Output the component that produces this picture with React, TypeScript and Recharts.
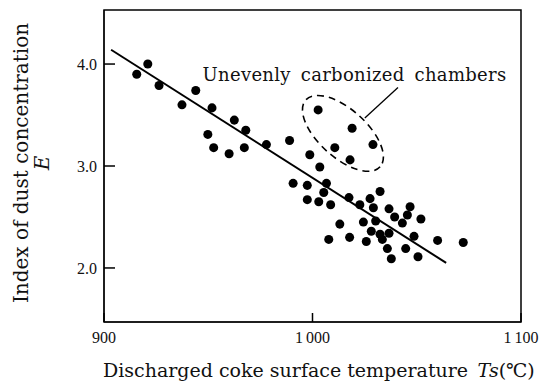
import React from "react";
import {
  ScatterChart,
  Scatter,
  XAxis,
  YAxis,
  ZAxis,
  ReferenceLine,
  ReferenceArea,
  ReferenceDot,
} from "recharts";

// surface temperature Ts (°C) vs index of dust concentration E
const tempTs = [
  915.7, 921, 926.4, 937.4, 944, 951.8, 962.5, 968, 949.8, 952.6, 960, 967.3, 977.9, 989,
  998.7, 1003.5, 1002.7, 1019, 1029, 1010.7, 1018,
  990.7, 997.5, 997.5, 1003, 1006.7, 1005.4, 1008.7, 1017.5, 1022.7, 1027.6, 1029.2, 1032.4,
  1036.7, 1039.4, 1043.1, 1046.8, 1045.5, 1052, 1013.1, 1024.4, 1030.3, 1028.2, 1032.4, 1033.5,
  1036.7, 1007.8, 1017.8, 1025.8, 1048.7, 1035.9, 1044.7, 1037.8, 1050.6, 1060, 1072.3,
];
const dustE = [
  3.9, 4.0, 3.79, 3.6, 3.74, 3.57, 3.45, 3.35, 3.31, 3.18, 3.12, 3.18, 3.21, 3.25,
  3.11, 2.99, 3.55, 3.37, 3.21, 3.18, 3.06,
  2.83, 2.81, 2.67, 2.65, 2.83, 2.74, 2.62, 2.69, 2.62, 2.68, 2.59, 2.75,
  2.58, 2.5, 2.44, 2.6, 2.52, 2.48, 2.43, 2.45, 2.46, 2.36, 2.33, 2.28,
  2.34, 2.28, 2.3, 2.26, 2.31, 2.19, 2.19, 2.09, 2.11, 2.27, 2.25,
];

const xTicks = [900, 1000, 1100];
const yTicks = [2.0, 3.0, 4.0];
const xDomain = [900, 1100];
const yDomain = [1.47, 4.53];

// regression line ends, leader line ends, ellipse centre, annotation anchor
const trendTs = [903.4, 1064.1];
const trendE = [4.14, 2.05];
const leaderTs = [1025.1, 1041.0];
const leaderE = [3.47, 3.77];
const groupCentre = { ts: 1014.6, e: 3.32 };
const noteAnchor = { ts: 947.3, e: 3.83 };

const points = tempTs.map((t, i) => ({ ts: t, e: dustE[i] }));

const SERIF = "'DejaVu Serif', serif";
const TICK_FONT = "'Liberation Serif', serif";

function fmtX(v: number) {
  return v >= 1000 ? `${Math.floor(v / 1000)}\u2009${String(v % 1000).padStart(3, "0")}` : String(v);
}

// tick label plus an inward mark drawn from the axis line
function XTick(p: any) {
  const axisY = p.y - 10;
  return (
    <g>
      <path d={`M${p.x},${axisY}L${p.x},${axisY - 9}`} stroke="#000" strokeWidth={1.5} fill="none" />
      <text x={p.x} y={p.y} dy="0.71em" textAnchor="middle" fontFamily={TICK_FONT} fontSize={16} fill="#111">
        {fmtX(p.payload.value)}
      </text>
    </g>
  );
}

function YTick(p: any) {
  const axisX = p.x + 7;
  return (
    <g>
      <path d={`M${axisX},${p.y}L${axisX + 11},${p.y}`} stroke="#000" strokeWidth={1.5} fill="none" />
      <text x={p.x} y={p.y} dy="0.35em" textAnchor="end" fontFamily={TICK_FONT} fontSize={16} fill="#111">
        {p.payload.value.toFixed(1)}
      </text>
    </g>
  );
}

export default function App() {
  return (
    <div style={{ position: "absolute", left: 0, top: 0, background: "#fff" }}>
      <ScatterChart width={545} height={384} margin={{ top: 10, right: 24, bottom: 0, left: 0 }}>
        <XAxis
          type="number"
          dataKey="ts"
          domain={xDomain}
          ticks={xTicks}
          height={62}
          stroke="#000"
          tickLine={false}
          tickSize={0}
          tickMargin={10}
          tick={(p: any) => <XTick {...p} />}
          label={{
            content: (p: any) => {
              const vb = p.viewBox;
              return (
                <text x={vb.x - 1} y={vb.y + 55} fontFamily={SERIF} fontSize={19} fill="#111">
                  Discharged coke surface temperature{"\u2002"}
                  <tspan fontStyle="italic">Ts</tspan>(℃)
                </text>
              );
            },
          }}
        />
        <YAxis
          type="number"
          dataKey="e"
          domain={yDomain}
          ticks={yTicks}
          width={104}
          stroke="#000"
          tickLine={false}
          tickSize={0}
          tickMargin={7}
          tick={(p: any) => <YTick {...p} />}
          label={{
            content: (p: any) => {
              const vb = p.viewBox;
              const cy = vb.y + vb.height / 2 - 3;
              return (
                <g fontFamily={SERIF} fontSize={20} fill="#111">
                  <text
                    x={21}
                    y={cy}
                    textAnchor="middle"
                    dominantBaseline="central"
                    transform={`rotate(-90 21 ${cy})`}
                  >
                    Index of dust concentration
                  </text>
                  <text
                    x={42}
                    y={cy}
                    textAnchor="middle"
                    dominantBaseline="central"
                    fontStyle="italic"
                    transform={`rotate(-90 42 ${cy})`}
                  >
                    E
                  </text>
                </g>
              );
            },
          }}
        />
        <ZAxis range={[75, 75]} />
        <ReferenceArea
          x1={xDomain[0]}
          x2={xDomain[1]}
          y1={yDomain[0]}
          y2={yDomain[1]}
          fill="none"
          stroke="#000"
          strokeWidth={1.5}
          ifOverflow="visible"
        />
        <ReferenceLine
          segment={[
            { x: trendTs[0], y: trendE[0] },
            { x: trendTs[1], y: trendE[1] },
          ]}
          stroke="#000"
          strokeWidth={2}
          ifOverflow="visible"
        />
        <ReferenceLine
          segment={[
            { x: leaderTs[0], y: leaderE[0] },
            { x: leaderTs[1], y: leaderE[1] },
          ]}
          stroke="#000"
          strokeWidth={1.3}
          ifOverflow="visible"
        />
        <ReferenceDot
          x={groupCentre.ts}
          y={groupCentre.e}
          ifOverflow="visible"
          shape={(p: any) => (
            <ellipse
              cx={p.cx}
              cy={p.cy}
              rx={50}
              ry={24}
              transform={`rotate(42 ${p.cx} ${p.cy})`}
              fill="none"
              stroke="#000"
              strokeWidth={1.6}
              strokeDasharray="7 5"
            />
          )}
        />
        <ReferenceDot
          x={noteAnchor.ts}
          y={noteAnchor.e}
          ifOverflow="visible"
          shape={(p: any) => (
            <text
              x={p.cx}
              y={p.cy}
              fontFamily={SERIF}
              fontSize={18}
              letterSpacing={0.3}
              wordSpacing={4}
              fill="#111"
            >
              Unevenly carbonized chambers
            </text>
          )}
        />
        <Scatter data={points} fill="#000" shape="circle" isAnimationActive={false} />
      </ScatterChart>
    </div>
  );
}
